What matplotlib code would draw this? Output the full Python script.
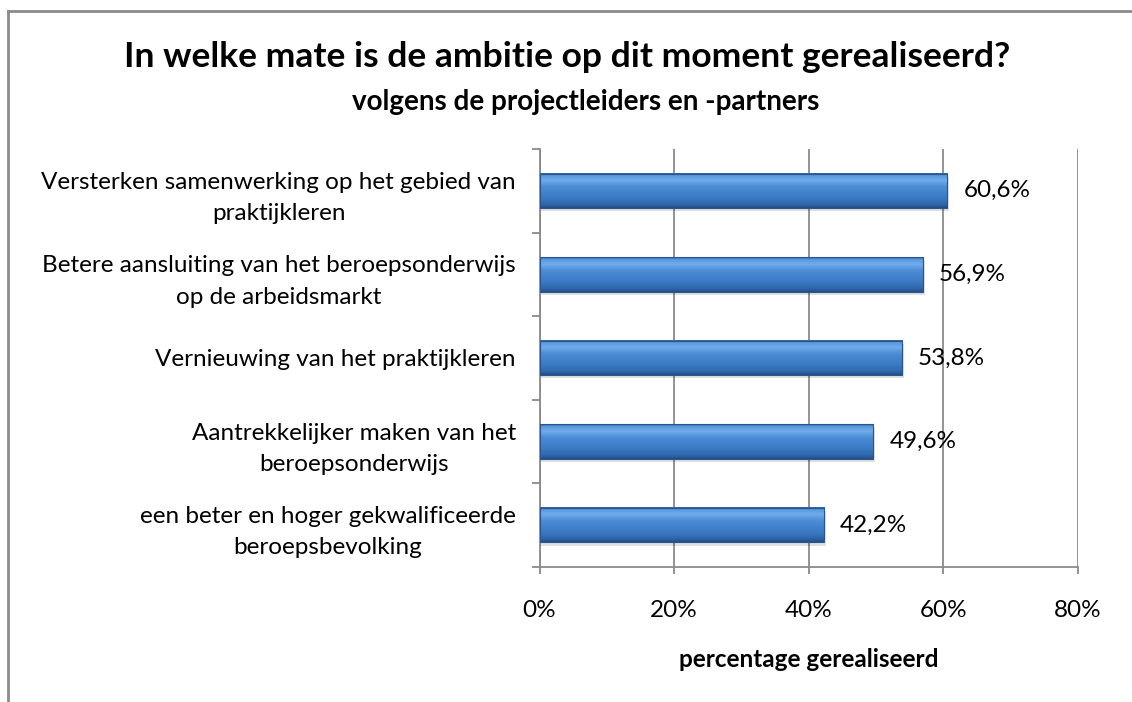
import numpy as np
import matplotlib.pyplot as plt
from matplotlib.colors import LinearSegmentedColormap
from matplotlib.lines import Line2D

categories = [
    'Versterken samenwerking op het gebied van\npraktijkleren',
    'Betere aansluiting van het beroepsonderwijs\nop de arbeidsmarkt',
    'Vernieuwing van het praktijkleren',
    'Aantrekkelijker maken van het\nberoepsonderwijs',
    'een beter en hoger gekwalificeerde\nberoepsbevolking',
]
values = [0.606, 0.569, 0.538, 0.496, 0.422]
value_labels = ['60,6%', '56,9%', '53,8%', '49,6%', '42,2%']
xticks = [0, 0.2, 0.4, 0.6, 0.8]
xtick_labels = ['0%', '20%', '40%', '60%', '80%']

plt.rcParams['font.family'] = ['Lato', 'DejaVu Sans']

W, H = 1132, 702
fig = plt.figure(figsize=(W / 100, H / 100), dpi=100)
ax = fig.add_axes([539.5 / W, 1 - 567 / H, (1078 - 539.5) / W, (567 - 149) / H])

# chart border (only left and top visible in the crop)
fig.add_artist(Line2D([8 / W, 8 / W], [0, 1 - 11 / H], color='#8a8a8a', lw=2, transform=fig.transFigure))
fig.add_artist(Line2D([8 / W, 1], [1 - 11 / H, 1 - 11 / H], color='#8a8a8a', lw=2, transform=fig.transFigure))

# vertical gradient for the bevelled bars
bar_cmap = LinearSegmentedColormap.from_list('bar', [
    (0.0, '#2f5f9e'), (0.06, '#5a98dc'), (0.2, '#70acec'), (0.38, '#4d8dd6'),
    (0.7, '#3b7ac5'), (0.9, '#3068ac'), (1.0, '#244f88')])
grad = np.linspace(0, 1, 64).reshape(-1, 1)

fs = 17.5
h = 0.41
ypos = np.arange(len(categories))
for y, v in zip(ypos, values):
    # soft shadow
    ax.barh(y + 0.04, v + 0.003, height=h, left=0.0, color='#000000', alpha=0.12, zorder=2)
    ax.imshow(grad, cmap=bar_cmap, aspect='auto', origin='lower',
              extent=(0, v, y - h / 2, y + h / 2), zorder=3)
    ax.barh(y, v, height=h, color='none', edgecolor='#2a5690', lw=0.8, zorder=4)

for y, v, lab in zip(ypos, values, value_labels):
    ax.text(v + 0.024, y, lab, va='center', ha='left', fontsize=fs, color='#000000', zorder=5)

ax.set_xlim(0, 0.8)
ax.set_ylim(len(categories) - 0.5, -0.5)
ax.set_xticks(xticks)
ax.set_xticklabels(xtick_labels, fontsize=fs)
ax.set_yticks(np.arange(len(categories) + 1) - 0.5)
ax.set_yticklabels([])
ax.set_yticks(ypos, minor=True)
ax.set_yticklabels(categories, minor=True, fontsize=fs, ha='right', multialignment='center',
                   linespacing=1.6)
ax.tick_params(axis='y', which='minor', length=0, pad=17)
ax.tick_params(axis='y', which='major', length=6, width=1.3, color='#8a8a8a', direction='out')
ax.tick_params(axis='x', length=5, width=1.3, color='#8a8a8a', pad=19)

ax.grid(axis='x', color='#8a8a8a', lw=1.3, zorder=0)
ax.set_axisbelow(True)
for s in ['top', 'right']:
    ax.spines[s].set_visible(False)
for s in ['left', 'bottom']:
    ax.spines[s].set_color('#8a8a8a')
    ax.spines[s].set_linewidth(1.3)

ax.set_xlabel('percentage gerealiseerd', fontsize=fs, fontweight='bold', labelpad=19)

fig.text(567 / W, 1 - 57 / H, 'In welke mate is de ambitie op dit moment gerealiseerd?',
         ha='center', va='center', fontsize=25.5, fontweight='bold')
fig.text(586 / W, 1 - 102 / H, 'volgens de projectleiders en -partners',
         ha='center', va='center', fontsize=20, fontweight='bold')

fig.savefig('out.png', dpi=100)
